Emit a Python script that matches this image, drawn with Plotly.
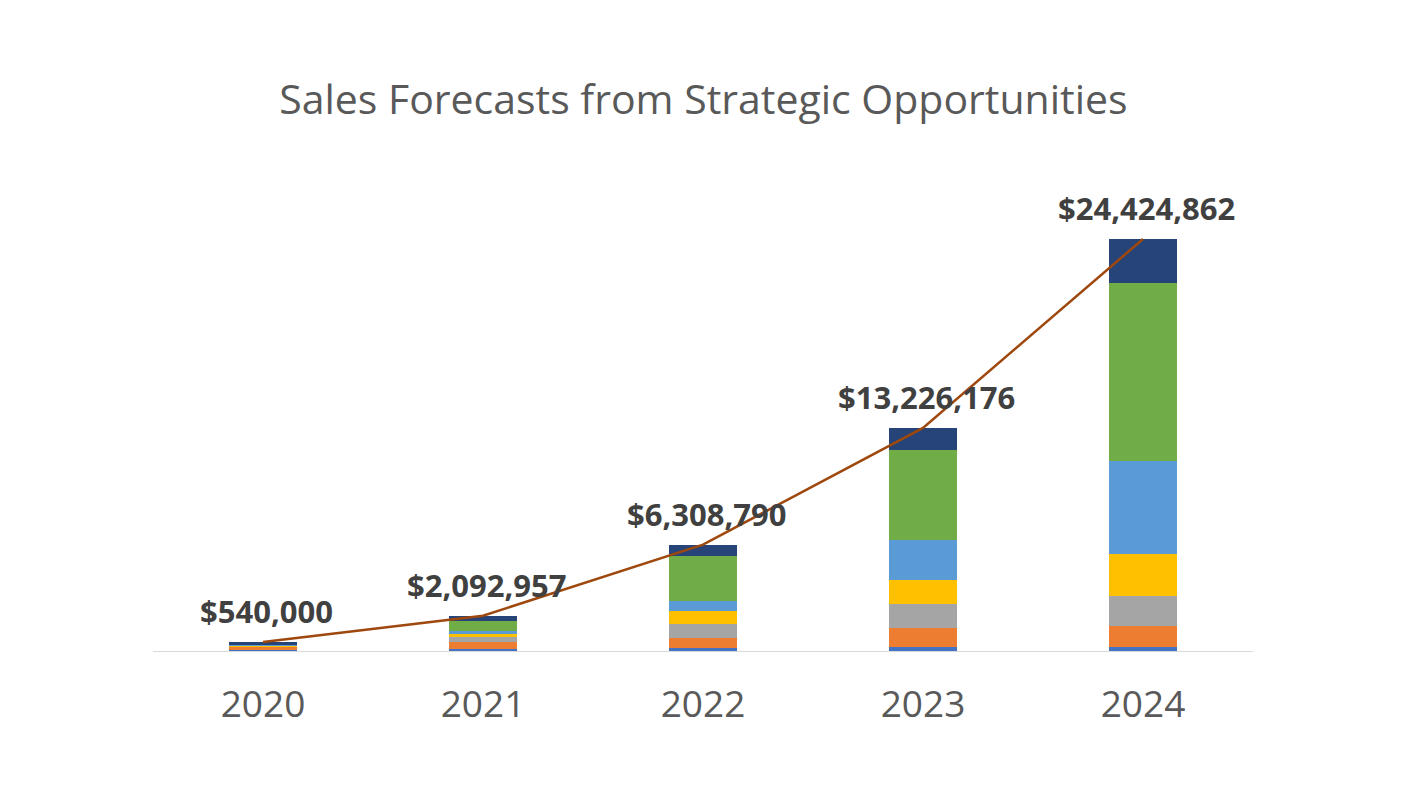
"""
Sales forecasts from strategic opportunities: stacked bars with a total line
"""
import plotly.graph_objects as go

years = ["2020", "2021", "2022", "2023", "2024"]

# seven opportunity segments, bottom to top
seg_blue = [80000, 120000, 180000, 220000, 220000]
seg_orange = [170000, 420000, 595000, 1150000, 1264000]
seg_gray = [40000, 300000, 830000, 1425000, 1780000]
seg_yellow = [30000, 180000, 770000, 1405000, 2490000]
seg_lightblue = [60000, 180000, 595000, 2375000, 5500000]
seg_green = [0, 560000, 2690000, 5340000, 10560000]
seg_navy = [160000, 332957, 648790, 1311176, 2610862]

totals = [540000, 2092957, 6308790, 13226176, 24424862]
total_labels = ["$540,000", "$2,092,957", "$6,308,790", "$13,226,176", "$24,424,862"]

segments = [
    ("Opportunity 1", seg_blue, "#4472C4"),
    ("Opportunity 2", seg_orange, "#ED7D31"),
    ("Opportunity 3", seg_gray, "#A5A5A5"),
    ("Opportunity 4", seg_yellow, "#FFC000"),
    ("Opportunity 5", seg_lightblue, "#5B9BD5"),
    ("Opportunity 6", seg_green, "#70AD47"),
    ("Opportunity 7", seg_navy, "#264478"),
]

fig = go.Figure()
for name, vals, color in segments:
    fig.add_trace(
        go.Bar(x=years, y=vals, name=name, marker=dict(color=color, line=dict(width=0)))
    )

fig.add_trace(
    go.Scatter(
        x=years,
        y=totals,
        mode="lines",
        name="Total",
        line=dict(color="#9E480E", width=2.5),
    )
)

# total labels above the line points (category axis -> annotation x is the index)
for i, (tot, lab) in enumerate(zip(totals, total_labels)):
    fig.add_annotation(
        x=i,
        y=tot,
        text=lab,
        showarrow=False,
        yshift=31,
        xshift=3,
        font=dict(family="Open Sans", size=31, color="#404040", weight="bold"),
    )

# page body adds an 8px offset, margins compensate for it
fig.update_layout(
    barmode="stack",
    bargap=0.69,
    showlegend=False,
    width=1402,
    height=786,
    paper_bgcolor="white",
    plot_bgcolor="white",
    margin=dict(l=145, r=157, t=162, b=143),
    title=dict(
        text="Sales Forecasts from Strategic Opportunities",
        x=0.496,
        xanchor="center",
        y=0.883,
        yanchor="middle",
        font=dict(family="Open Sans", size=41, color="#595959"),
    ),
    xaxis=dict(
        type="category",
        range=[-0.5, 4.5],
        showline=True,
        linecolor="#D9D9D9",
        linewidth=1,
        ticks="",
        tickfont=dict(family="Open Sans", size=37, color="#595959"),
        ticklabelstandoff=21,
    ),
    yaxis=dict(
        visible=False,
        range=[0, 28520000],
        showgrid=False,
        zeroline=False,
    ),
)

fig.write_html("out.html")
